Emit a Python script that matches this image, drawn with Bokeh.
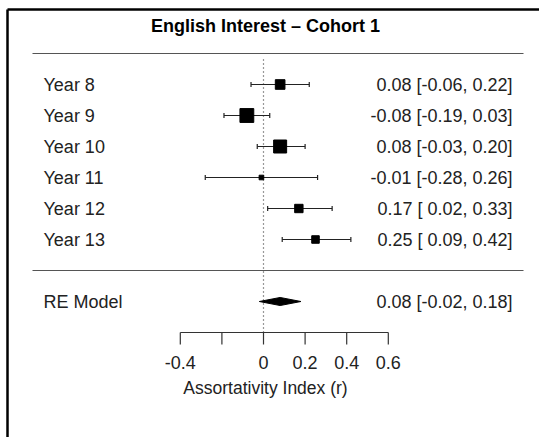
from bokeh.plotting import figure
from bokeh.models import ColumnDataSource, Range1d
from bokeh.core.properties import value
from bokeh.embed import file_html
from bokeh.resources import INLINE

# ---------------- data ----------------
title = "English Interest \u2013 Cohort 1"
studies = ["Year 8", "Year 9", "Year 10", "Year 11", "Year 12", "Year 13"]
estimates = [0.08, -0.08, 0.08, -0.01, 0.17, 0.25]
ci_lower = [-0.06, -0.19, -0.03, -0.28, 0.02, 0.09]
ci_upper = [0.22, 0.03, 0.20, 0.26, 0.33, 0.42]
weights = [17, 27, 25, 5, 14, 12]          # relative study weights (%)
summary_label = "RE Model"
summary_est = 0.08
summary_lower = -0.02
summary_upper = 0.18
tick_values = [-0.4, -0.2, 0.0, 0.2, 0.4, 0.6]
tick_labels = ["-0.4", "", "0", "0.2", "0.4", "0.6"]
x_label = "Assortativity Index (r)"

# ---------------- layout helpers ----------------
W, H = 539, 437
ZERO_PX = 263.0
PX_PER_UNIT = 208.0
ROW0_PX = 270.0
PX_PER_ROW = 31.0


def X(px):
    return (px - ZERO_PX) / PX_PER_UNIT


def Y(py):
    return (ROW0_PX - py) / PX_PER_ROW


FONT = value("Liberation Sans")
TXT = "#222222"
FS = "18px"
k = len(studies)
rows = [k - i for i in range(k)]
sizes = [2.5 + 0.42 * w for w in weights]
cap = 0.08


def fmt(est, lo, hi):
    return f"{est:.2f} [{lo: .2f}, {hi:.2f}]"


labels_right = [fmt(e, l, u) for e, l, u in zip(estimates, ci_lower, ci_upper)]

src = ColumnDataSource(dict(study=studies, est=estimates, lo=ci_lower, hi=ci_upper,
                            row=rows, size=sizes, right=labels_right,
                            cap0=[r - cap for r in rows], cap1=[r + cap for r in rows]))

p = figure(width=W, height=H, x_range=Range1d(X(0), X(W)), y_range=Range1d(Y(H), Y(0)),
           output_backend="svg", toolbar_location=None, min_border=0,
           x_axis_type=None, y_axis_type=None)
p.grid.visible = False
p.outline_line_color = None
p.background_fill_color = "white"
p.border_fill_color = "white"

# outer frame
p.segment(x0=[X(7), X(7)], y0=[Y(9), Y(9)], x1=[X(7), X(560)], y1=[Y(460), Y(9)],
          line_color="black", line_width=2.5)

# title
p.text(x=[X(265)], y=[Y(25)], text=[title], text_font=FONT, text_font_size="18px",
       text_font_style="bold", text_align="center", text_baseline="middle", text_color="black")

# horizontal separators at row k+1 and 0
p.segment(x0=[X(32), X(32)], y0=[k + 1, 0], x1=[X(523), X(523)], y1=[k + 1, 0],
          line_color="#555555", line_width=1.2)

# reference line at zero
p.segment(x0=[0], y0=[-2], x1=[0], y1=[k + 0.9], line_color="#333333",
          line_width=1.2, line_dash="1 3")

# CI lines and caps
p.segment(x0="lo", y0="row", x1="hi", y1="row", source=src, line_color="#222222", line_width=1.2)
p.segment(x0="lo", x1="lo", y0="cap0", y1="cap1", source=src, line_color="#222222", line_width=1.2)
p.segment(x0="hi", x1="hi", y0="cap0", y1="cap1", source=src, line_color="#222222", line_width=1.2)
p.scatter(x="est", y="row", size="size", marker="square", source=src,
          fill_color="black", line_color="black")

# summary diamond
h = 0.13
p.patch(x=[summary_lower, summary_est, summary_upper, summary_est],
        y=[-1, -1 + h, -1, -1 - h], fill_color="black", line_color="black")

# left / right text
p.text(x=X(43), y="row", text="study", source=src, text_font=FONT, text_font_size=FS,
       text_align="left", text_baseline="middle", text_color=TXT)
p.text(x=X(512), y="row", text="right", source=src, text_font=FONT, text_font_size=FS,
       text_align="right", text_baseline="middle", text_color=TXT)
p.text(x=[X(43)], y=[-1], text=[summary_label], text_font=FONT, text_font_size=FS,
       text_align="left", text_baseline="middle", text_color=TXT)
p.text(x=[X(512)], y=[-1], text=[fmt(summary_est, summary_lower, summary_upper)],
       text_font=FONT, text_font_size=FS, text_align="right", text_baseline="middle",
       text_color=TXT)

# bottom axis
ax_y = -2
tick_len = 12 / PX_PER_ROW
p.segment(x0=[min(tick_values)], x1=[max(tick_values)], y0=[ax_y], y1=[ax_y],
          line_color="#333333", line_width=1.2)
p.segment(x0=tick_values, x1=tick_values, y0=[ax_y] * len(tick_values),
          y1=[ax_y - tick_len] * len(tick_values), line_color="#333333", line_width=1.2)
p.text(x=tick_values, y=[Y(362)] * len(tick_values), text=tick_labels, text_font=FONT,
       text_font_size=FS, text_align="center", text_baseline="middle", text_color=TXT)
p.text(x=[X(265)], y=[Y(387)], text=[x_label], text_font=FONT, text_font_size="17.5px",
       text_align="center", text_baseline="middle", text_color=TXT)

open("out.html", "w").write(file_html(p, INLINE))
